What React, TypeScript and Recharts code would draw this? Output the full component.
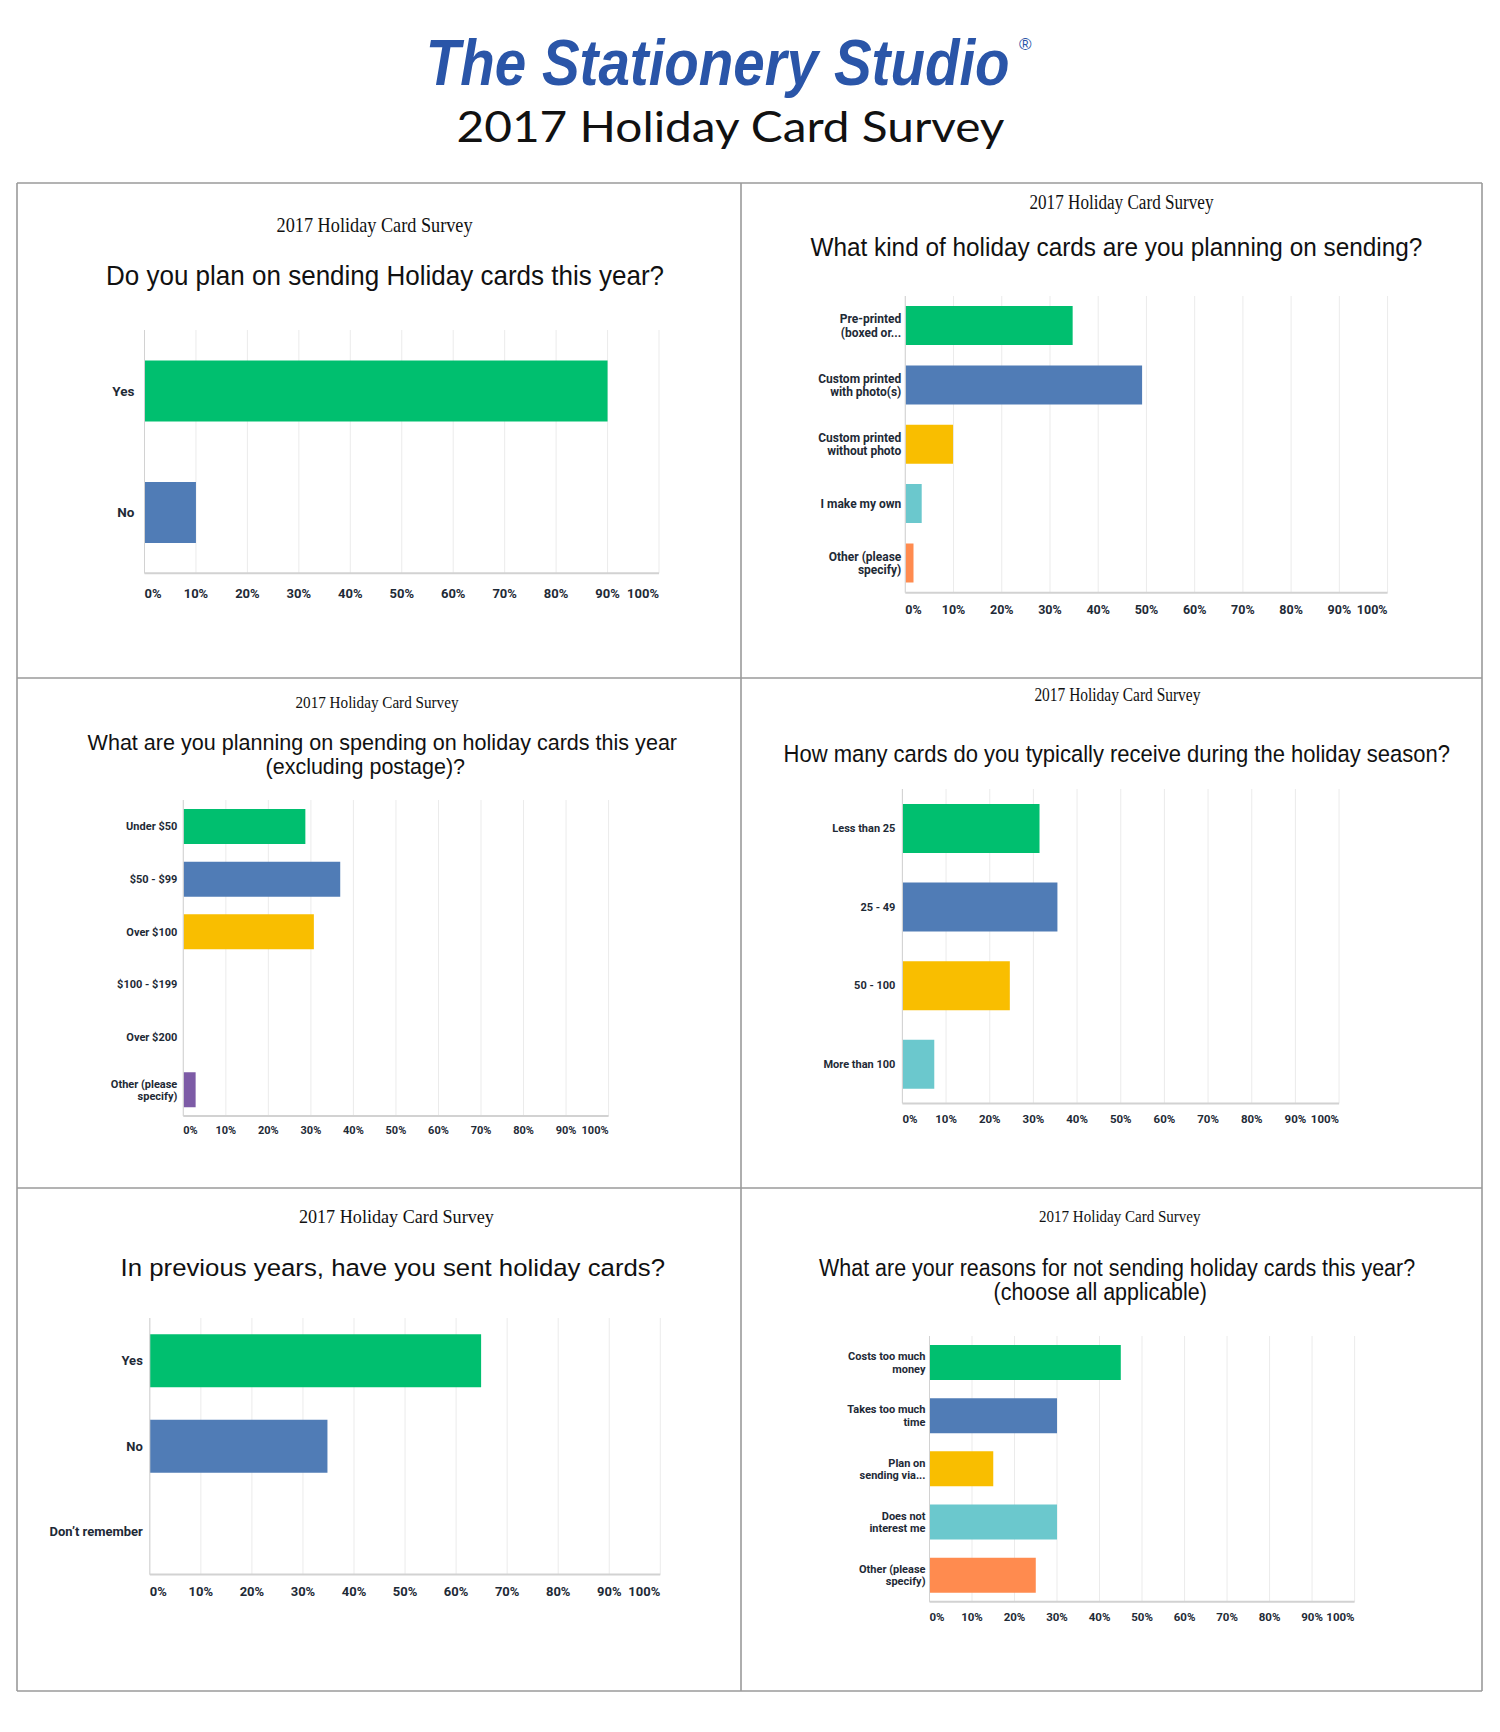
import React from 'react';
import { BarChart, Bar, XAxis, YAxis, CartesianGrid, Cell } from 'recharts';

// ---------- data ----------
const palette = ['#00bf6f', '#507cb6', '#f9be00', '#6bc8cd', '#ff8b4f', '#7d5ba6'];
const pctTicks = [0, 10, 20, 30, 40, 50, 60, 70, 80, 90, 100];

const pageTitle = '2017 Holiday Card Survey';
const logoText = 'The Stationery Studio';
const surveyTag = '2017 Holiday Card Survey';

const q1Text = ['Do you plan on sending Holiday cards this year?'];
const q1Labels = ['Yes', 'No'];
const q1Values = [90, 10];

const q2Text = ['What kind of holiday cards are you planning on sending?'];
const q2Labels = ['Pre-printed\n(boxed or...', 'Custom printed\nwith photo(s)', 'Custom printed\nwithout photo', 'I make my own', 'Other (please\nspecify)'];
const q2Values = [34.7, 49.1, 9.9, 3.4, 1.7];

const q3Text = ['What are you planning on spending on holiday cards this year', '(excluding postage)?'];
const q3Labels = ['Under $50', '$50 - $99', 'Over $100', '$100 - $199', 'Over $200', 'Other (please\nspecify)'];
const q3Values = [28.7, 36.9, 30.7, 0, 0, 2.9];

const q4Text = ['How many cards do you typically receive during the holiday season?'];
const q4Labels = ['Less than 25', '25 - 49', '50 - 100', 'More than 100'];
const q4Values = [31.4, 35.5, 24.6, 7.3];

const q5Text = ['In previous years, have you sent holiday cards?'];
const q5Labels = ['Yes', 'No', 'Don\u2019t remember'];
const q5Values = [64.9, 34.8, 0];

const q6Text = ['What are your reasons for not sending holiday cards this year?', '(choose all applicable)'];
const q6Labels = ['Costs too much\nmoney', 'Takes too much\ntime', 'Plan on\nsending via...', 'Does not\ninterest me', 'Other (please\nspecify)'];
const q6Values = [45, 30, 15, 30, 25];

// ---------- layout ----------
type Panel = {
  boxX: number;
  sub: { cx: number; base: number; fs: number; len: number };
  q: { cx: number; base: number; fs: number; len: number }[];
  qText: string[];
  plot: { x0: number; x1: number; y0: number; y1: number };
  gap: string;
  tickFs: number;
  tickDy: number;
  yFs: number;
  yLh: number;
  yGap: number;
  labels: string[];
  values: number[];
};

const panels: Panel[] = [
  {
    boxX: 17,
    sub: { cx: 374.6, base: 231.7, fs: 21, len: 196 },
    q: [{ cx: 385, base: 285, fs: 28, len: 558 }],
    qText: q1Text,
    plot: { x0: 144.5, x1: 659, y0: 330, y1: 573.3 },
    gap: '25%', tickFs: 13, tickDy: 20, yFs: 13.5, yLh: 14, yGap: 10,
    labels: q1Labels, values: q1Values,
  },
  {
    boxX: 741,
    sub: { cx: 1121.5, base: 209.3, fs: 20, len: 184 },
    q: [{ cx: 1116.4, base: 256, fs: 26, len: 612 }],
    qText: q2Text,
    plot: { x0: 905.3, x1: 1387.6, y0: 296, y1: 592.7 },
    gap: '17%', tickFs: 12.5, tickDy: 16.5, yFs: 12, yLh: 13.3, yGap: 4,
    labels: q2Labels, values: q2Values,
  },
  {
    boxX: 17,
    sub: { cx: 377, base: 707.9, fs: 16.5, len: 163 },
    q: [
      { cx: 382.3, base: 750.1, fs: 22, len: 589.5 },
      { cx: 365.3, base: 774.1, fs: 22, len: 199.5 },
    ],
    qText: q3Text,
    plot: { x0: 183.3, x1: 608.6, y0: 800.2, y1: 1116.3 },
    gap: '17%', tickFs: 11, tickDy: 14.5, yFs: 11, yLh: 12.2, yGap: 6,
    labels: q3Labels, values: q3Values,
  },
  {
    boxX: 741,
    sub: { cx: 1117.4, base: 701, fs: 18, len: 166 },
    q: [{ cx: 1116.8, base: 762, fs: 24.5, len: 666.5 }],
    qText: q4Text,
    plot: { x0: 902.4, x1: 1339.1, y0: 789.3, y1: 1103.7 },
    gap: '19%', tickFs: 11.5, tickDy: 16, yFs: 11, yLh: 12.5, yGap: 7,
    labels: q4Labels, values: q4Values,
  },
  {
    boxX: 17,
    sub: { cx: 396.4, base: 1222.9, fs: 19.6, len: 195 },
    q: [{ cx: 392.8, base: 1275.7, fs: 24.5, len: 544.5 }],
    qText: q5Text,
    plot: { x0: 149.8, x1: 660.3, y0: 1318.3, y1: 1574.9 },
    gap: '19%', tickFs: 13, tickDy: 17, yFs: 13, yLh: 14, yGap: 7,
    labels: q5Labels, values: q5Values,
  },
  {
    boxX: 741,
    sub: { cx: 1119.8, base: 1222.2, fs: 17, len: 161.5 },
    q: [
      { cx: 1117.1, base: 1275.7, fs: 23, len: 596 },
      { cx: 1100.2, base: 1300.4, fs: 23, len: 213.3 },
    ],
    qText: q6Text,
    plot: { x0: 929.5, x1: 1354.6, y0: 1335.9, y1: 1601.7 },
    gap: '17%', tickFs: 11.5, tickDy: 15, yFs: 11, yLh: 12.3, yGap: 4,
    labels: q6Labels, values: q6Values,
  },
];

const TEXT_DARK = '#1e2a36';

function makeXTick(fs: number, dy: number) {
  return (props: any) => {
    const { x, y, payload } = props;
    const v = payload.value;
    const anchor = v === 0 ? 'start' : v === 100 ? 'end' : 'middle';
    return (
      <text x={x} y={y + dy + fs * 0.35} textAnchor={anchor} fontSize={fs}
        fontFamily="Roboto, 'DejaVu Sans', sans-serif" fontWeight={700} fill={TEXT_DARK}>
        {v}%
      </text>
    );
  };
}

function makeYTick(fs: number, lh: number, gap: number) {
  return (props: any) => {
    const { x, y, payload } = props;
    const lines = String(payload.value).split('\n');
    return (
      <text textAnchor="end" fontSize={fs} fontFamily="Roboto, 'DejaVu Sans', sans-serif"
        fontWeight={700} fill={TEXT_DARK}>
        {lines.map((l, i) => (
          <tspan key={i} x={x - gap} y={y + (i - (lines.length - 1) / 2) * lh + fs * 0.35}>{l}</tspan>
        ))}
      </text>
    );
  };
}

function PanelChart({ p }: { p: Panel }) {
  const mTop = 6;
  const mRight = 20;
  const xAxisH = 40;
  const left = p.boxX;
  const top = p.plot.y0 - mTop;
  const width = p.plot.x1 + mRight - left;
  const height = p.plot.y1 - p.plot.y0 + mTop + xAxisH;
  const data = p.labels.map((name, i) => ({ name, value: p.values[i] }));
  return (
    <div style={{ position: 'absolute', left, top, width, height }}>
      <BarChart width={width} height={height} data={data} layout="vertical"
        margin={{ top: mTop, right: mRight, bottom: 0, left: 0 }} barCategoryGap={p.gap}>
        <CartesianGrid horizontal={false} vertical={true} stroke="#ebebeb" strokeWidth={1} />
        <XAxis type="number" domain={[0, 100]} ticks={pctTicks} interval={0} height={xAxisH}
          axisLine={{ stroke: '#d2d2d2', strokeWidth: 2 }} tickLine={false} tickSize={0} tickMargin={0}
          tick={makeXTick(p.tickFs, p.tickDy)} allowDataOverflow />
        <YAxis type="category" dataKey="name" width={p.plot.x0 - left} interval={0}
          axisLine={{ stroke: '#d2d2d2', strokeWidth: 1 }} tickLine={false} tickSize={0} tickMargin={0}
          tick={makeYTick(p.yFs, p.yLh, p.yGap)} />
        <Bar dataKey="value" isAnimationActive={false}>
          {data.map((d, i) => (
            <Cell key={i} fill={palette[i % palette.length]} />
          ))}
        </Bar>
      </BarChart>
    </div>
  );
}

export default function App() {
  const borderColor = '#9a9a9a';
  const bw = 1.6;
  return (
    <div style={{ position: 'absolute', left: 0, top: 0, width: 1500, height: 1732, background: '#fff' }}>
      <svg width={1500} height={1732} style={{ position: 'absolute', left: 0, top: 0 }}>
        {/* header */}
        <g transform="translate(425.8 85) scale(1 1.14)">
          <text x={0} y={0} fontSize={56.5}
            fontStyle="italic" fontWeight={700} fontFamily="'Liberation Sans', sans-serif"
            fill="#2a55a8">{logoText}</text>
        </g>
        <text x={1019} y={50} fontSize={17} fontFamily="'Liberation Sans', sans-serif" fill="#2a55a8">®</text>
        <text x={456.5} y={141.7} textLength={548} lengthAdjust="spacingAndGlyphs" fontSize={43}
          fontFamily="Lato, 'Liberation Sans', sans-serif" fill="#111">{pageTitle}</text>

        {/* borders */}
        {[183, 678, 1188, 1691].map((y) => (
          <line key={'h' + y} x1={17} x2={1482} y1={y} y2={y} stroke={borderColor} strokeWidth={bw} />
        ))}
        {[17, 741, 1482].map((x) => (
          <line key={'v' + x} x1={x} x2={x} y1={183} y2={1691} stroke={borderColor} strokeWidth={bw} />
        ))}

        {/* panel titles */}
        {panels.map((p, pi) => (
          <g key={pi}>
            <text x={p.sub.cx} y={p.sub.base} textAnchor="middle" textLength={p.sub.len}
              lengthAdjust="spacingAndGlyphs" fontSize={p.sub.fs}
              fontFamily="'Liberation Serif', 'Times New Roman', serif" fill="#111">{surveyTag}</text>
            {p.q.map((q, qi) => (
              <text key={qi} x={q.cx} y={q.base} textAnchor="middle" textLength={q.len}
                lengthAdjust="spacingAndGlyphs" fontSize={q.fs}
                fontFamily="'Liberation Sans', Arial, sans-serif" fill="#111">{p.qText[qi]}</text>
            ))}
          </g>
        ))}
      </svg>
      {panels.map((p, i) => (
        <PanelChart key={i} p={p} />
      ))}
    </div>
  );
}
